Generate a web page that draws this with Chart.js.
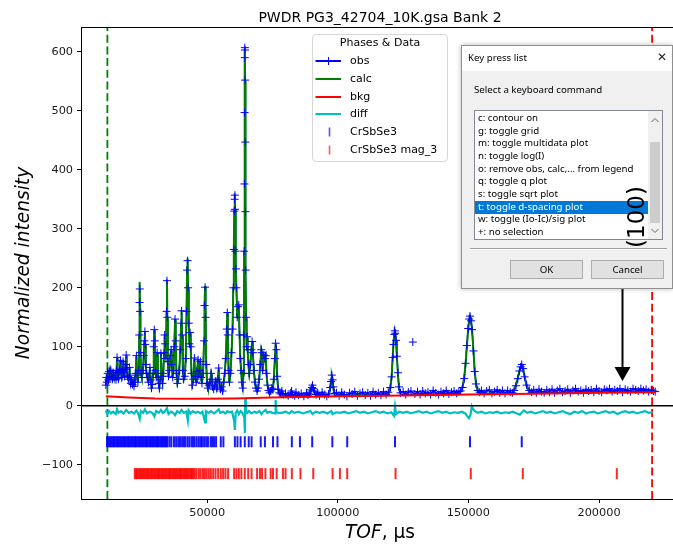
<!DOCTYPE html>
<html>
<head>
<meta charset="utf-8">
<title>PWDR PG3_42704_10K.gsa Bank 2</title>
<script src="https://cdn.jsdelivr.net/npm/chart.js@4.4.1/dist/chart.umd.min.js"></script>
<style>
  html, body { margin: 0; padding: 0; background: #fff; overflow: hidden; }
  #wrap { position: relative; width: 673px; height: 544px; overflow: hidden; }
  #plot { position: absolute; left: 0; top: 0; }

  #legend { position: absolute; left: 312px; top: 34px; width: 134px; height: 126px;
            border: 1px solid #d6d6d6; border-radius: 4px; background: rgba(255,255,255,0.85);
            font: 11px "DejaVu Sans", sans-serif; color: #000; }
  #legend .ttl { position: absolute; left: 0; width: 100%; top: 1px; text-align: center; line-height: 14px; }
  #legend .row { position: absolute; left: 0; width: 100%; height: 14px; }
  #legend svg { position: absolute; left: 0; top: 0; }
  #legend .lab { position: absolute; left: 37px; top: 0; line-height: 14px; white-space: nowrap; }

  #dlg { position: absolute; left: 461px; top: 45px; width: 210px; height: 242px;
         border: 1px solid #8f8f8f; background: #f0f0f0; box-shadow: 0 0 5px rgba(0,0,0,0.28);
         font: 9.7px "Noto Sans", sans-serif; color: #000; }
  #dlg .bar { position: absolute; left: 0; top: 0; right: 0; height: 25px; background: #fff; }
  #dlg .bar .t { position: absolute; left: 6px; top: 5px; line-height: 14px; }
  #dlg .bar .x { position: absolute; left: 195px; top: 4px; font: 12px "DejaVu Sans", sans-serif; color: #222; }
  #dlg .prompt { position: absolute; left: 12px; top: 37px; line-height: 14px; }
  #dlg .list { position: absolute; left: 12px; top: 64px; width: 187px; height: 128px;
               border: 1px solid #828790; background: #fff; overflow: hidden; }
  #dlg .item { position: absolute; left: 0; width: 170px; padding-left: 3px; height: 12.65px;
               line-height: 12.65px; white-space: nowrap; }
  #dlg .item.sel { background: #0078d7; color: #fff; height: 13.3px; }
  #dlg .sb { position: absolute; right: 0; top: 0; width: 14px; height: 100%; background: #f0f0f0; }
  #dlg .thumb { position: absolute; left: 2px; width: 10px; top: 31px; height: 81px; background: #cdcdcd; }
  #dlg .sb svg { position: absolute; left: 3px; }
  #dlg .sep { position: absolute; left: 8px; top: 202px; width: 197px; height: 0;
              border-top: 1px solid #a0a0a0; border-bottom: 1px solid #fff; }
  #dlg .btn { position: absolute; top: 214px; height: 17px; border: 1px solid #adadad; background: #e1e1e1;
              text-align: center; line-height: 17px; }

  #ann { position: absolute; left: 635.5px; top: 216.5px; transform: translate(-50%, -50%) rotate(-90deg);
         font: 23px "DejaVu Sans", sans-serif; color: #000; white-space: nowrap; line-height: 23px; }
</style>
</head>
<body>
<div id="wrap">
  <canvas id="plot" width="690" height="544"></canvas>
  <div id="legend"></div>
  <div id="dlg">
    <div class="bar"><span class="t">Key press list</span><span class="x">✕</span></div>
    <div class="prompt">Select a keyboard command</div>
    <div class="list" id="keylist">
      <div class="sb">
        <svg width="8" height="6" style="top:6px"><polyline points="0.5,5 4,1.5 7.5,5" fill="none" stroke="#606060" stroke-width="1"/></svg>
        <div class="thumb"></div>
        <svg width="8" height="6" style="top:117px"><polyline points="0.5,1 4,4.5 7.5,1" fill="none" stroke="#606060" stroke-width="1"/></svg>
      </div>
    </div>
    <div class="sep"></div>
    <div class="btn" style="left:48px;width:71px">OK</div>
    <div class="btn" style="left:129px;width:71px">Cancel</div>
  </div>
  <div id="ann">(100)</div>
</div>
<script>
// --- chart text and axes ---
const chartTitle = 'PWDR PG3_42704_10K.gsa Bank 2';
const yTitle = 'Normalized intensity';
const xTitleItalic = 'TOF';
const xTitleRest = ', µs';
const xTicks = [50000, 100000, 150000, 200000];
const yTicks = [-100, 0, 100, 200, 300, 400, 500, 600];
const xRange = [1700, 230600];
const yRange = [-158, 642];

// excluded-region limits (green = lower, red = upper)
const limitTof = [11800, 220300];

// observed profile [TOF, intensity]
const obsPts = [
  [11200,35],[11400,48],[11600,40],[11900,55],[12200,44],[12500,58],[12800,47],[13100,60],[13400,50],[13700,45],
  [14000,56],[14300,48],[14700,52],[15100,44],[15300,60],[15500,82],[15700,55],[16000,46],[16300,58],[16600,62],
  [16800,77],[17000,57],[17300,48],[17600,60],[17800,75],[18000,56],[18300,50],[18600,62],[18850,70],[19000,86],
  [19200,64],[19500,50],[19800,45],[20100,52],[20300,65],[20500,48],[20800,38],[21100,44],[21400,36],[21700,40],
  [22000,33],[22300,44],[22600,55],[22900,85],[23150,52],[23500,40],[23800,60],[24000,120],[24100,175],[24200,198],
  [24300,160],[24450,90],[24700,55],[25000,48],[25400,60],[25700,85],[25950,110],[26150,126],[26300,104],[26500,70],
  [26800,55],[27100,48],[27500,40],[27800,55],[28100,65],[28400,44],[28700,30],[29000,36],[29300,55],[29550,100],
  [29750,129],[29950,110],[30200,60],[30500,48],[30850,90],[31100,55],[31400,38],[31700,30],[32000,45],[32300,89],
  [32600,50],[32900,38],[33200,55],[33500,90],[33700,120],[33900,105],[34200,80],[34450,160],[34600,212],[34750,150],
  [34950,75],[35200,50],[35500,60],[35900,85],[36200,95],[36450,70],[36800,48],[37100,60],[37400,100],[37700,147],
  [37950,110],[38250,55],[38600,38],[38900,45],[39300,60],[39700,95],[40000,140],[40200,161],[40400,120],[40700,60],
  [41000,45],[41400,50],[41800,80],[42100,160],[42300,230],[42500,246],[42700,200],[42950,140],[43200,105],[43450,124],
  [43700,100],[44000,55],[44300,35],[44700,45],[45100,81],[45400,50],[45800,40],[46100,58],[46500,78],[46800,50],
  [47100,60],[47400,75],[47700,48],[48000,38],[48400,55],[48800,110],[49000,170],[49200,201],[49400,150],[49650,70],
  [49950,38],[50300,30],[50700,35],[51100,40],[51500,55],[51800,45],[52100,32],[52500,28],[52900,35],[53300,42],
  [53700,30],[54100,45],[54400,64],[54700,40],[55100,28],[55500,32],[55900,25],[56300,40],[56700,55],[57100,80],
  [57500,130],[57700,158],[57900,120],[58200,60],[58500,40],[58900,55],[59300,90],[59700,130],[60000,200],[60200,265],
  [60350,330],[60500,350],[60600,357],[60700,333],[60850,262],[61000,232],[61200,200],[61500,150],[61800,168],[62100,171],
  [62400,120],[62700,80],[63000,60],[63300,40],[63600,30],[63900,55],[64050,120],[64150,262],[64250,376],[64320,497],
  [64380,590],[64420,607],[64460,603],[64520,552],[64580,447],[64650,329],[64750,230],[64900,150],[65100,100],[65300,117],
  [65500,95],[65800,70],[66100,55],[66500,70],[66900,95],[67200,109],[67500,90],[67900,60],[68300,40],[68700,30],
  [69100,25],[69500,30],[69900,45],[70300,70],[70700,95],[70900,90],[71200,60],[71700,86],[72100,80],[72400,85],
  [72700,55],[73100,35],[73500,26],[73900,22],[74300,25],[74700,30],[75100,28],[75500,45],[75900,80],[76200,106],
  [76500,95],[76800,50],[77200,28],[77600,22],[78100,20],[78600,25],[79100,19],
  [80000,21],[81000,17],[82000,22],[82300,25],[82700,19],[83500,17],[84000,23],[85000,18],[86000,21],[87000,16],
  [88000,22],[88600,18],[89100,20],[89700,27],[90100,31],[90300,35],[90600,29],[91100,25],[91700,19],
  [92300,22],[93000,17],[94000,23],[95000,19],[95800,16],
  [96500,20],[97100,31],[97400,41],[97700,52],[98000,44],[98300,32],[98800,21],
  [99500,22],[100500,17],[101500,23],[102500,19],[103500,16],[104500,22],[105500,20],[106500,24],[107500,17],[108500,21],
  [109500,23],[110500,18],[111500,22],[112500,17],[113500,24],[114500,19],[115500,22],[116500,18],[117500,24],[118500,19],
  [119300,23],[120100,31],[120600,49],[121000,82],[121300,104],[121600,121],[121800,127],[122000,123],[122300,111],[122600,84],
  [123000,56],[123400,32],[124000,22],
  [125000,24],[126000,19],[127000,23],[128000,25],[129500,20],[130500,24],[131500,19],[132500,25],[133500,21],
  [134500,23],[135500,19],[136500,26],[137500,22],[138500,19],[139500,24],[140500,21],[141500,26],[142500,20],[143500,23],
  [144500,25],[145500,21],[146300,24],
  [147000,25],[147800,31],[148400,46],[148900,72],[149400,102],[149900,131],[150300,147],[150600,152],[151000,144],[151400,129],
  [151900,93],[152400,58],[152900,37],[153600,26],[154300,23],
  [155000,26],[156000,21],[157000,25],[158000,27],[159000,21],[160000,24],[161000,27],[162000,22],[163000,26],[164000,21],
  [165000,26],[166000,23],[166800,22],
  [167500,26],[168200,34],[168900,46],[169500,59],[170000,66],[170400,70],[170900,63],[171500,49],[172300,35],[173300,26],
  [174200,23],
  [175000,27],[176000,22],[177000,28],[178000,24],[179000,22],[180000,27],[181000,23],[182000,28],[183000,22],[184000,26],
  [185000,29],[186000,23],[187000,25],[188000,28],[189000,22],[190000,26],[191000,29],[192000,24],[193000,26],[194000,22],
  [195000,28],[196000,25],[197000,27],[198000,23],[199000,29],[200000,25],[201000,23],[202000,28],[203000,26],[204000,29],
  [205000,24],[206000,27],[207000,25],[208000,29],[209000,23],[210000,28],[211000,26],[212000,24],[213000,29],[214000,27],
  [215000,25],[216000,29],[217000,26],[218000,28],[219000,24],[220000,27],[220800,25],[221500,24]
];
// isolated observed point (spike), plotted as a marker only
const obsOutliers = [[128700,108]];

// calculated profile [TOF, intensity]
const calcPts = [
  [11200,38],[11400,45],[11600,42],[11900,52],[12200,46],[12500,55],[12800,48],[13100,57],[13400,50],[13700,47],
  [14000,54],[14300,49],[14700,51],[15100,46],[15300,58],[15500,80],[15700,54],[16000,48],[16300,56],[16600,60],
  [16800,76],[17000,56],[17300,50],[17600,58],[17800,73],[18000,55],[18300,51],[18600,60],[18850,68],[19000,84],
  [19200,62],[19500,51],[19800,46],[20100,51],[20300,63],[20500,47],[20800,40],[21100,43],[21400,38],[21700,40],
  [22000,35],[22300,43],[22600,53],[22900,83],[23150,50],[23500,41],[23800,58],[24000,118],[24100,180],[24200,210],
  [24300,165],[24450,88],[24700,54],[25000,48],[25400,58],[25700,83],[25950,108],[26150,124],[26300,102],[26500,68],
  [26800,54],[27100,47],[27500,41],[27800,53],[28100,63],[28400,43],[28700,32],[29000,37],[29300,54],[29550,98],
  [29750,127],[29950,108],[30200,58],[30500,47],[30850,88],[31100,53],[31400,39],[31700,32],[32000,44],[32300,87],
  [32600,49],[32900,39],[33200,54],[33500,88],[33700,118],[33900,103],[34200,79],[34450,158],[34600,214],[34750,148],
  [34950,73],[35200,49],[35500,58],[35900,83],[36200,93],[36450,68],[36800,47],[37100,58],[37400,98],[37700,145],
  [37950,108],[38250,54],[38600,39],[38900,44],[39300,58],[39700,93],[40000,138],[40200,162],[40400,118],[40700,58],
  [41000,44],[41400,49],[41800,78],[42100,158],[42300,235],[42500,250],[42700,198],[42950,138],[43200,103],[43450,122],
  [43700,98],[44000,53],[44300,36],[44700,44],[45100,79],[45400,49],[45800,40],[46100,56],[46500,76],[46800,49],
  [47100,58],[47400,73],[47700,47],[48000,38],[48400,53],[48800,108],[49000,172],[49200,203],[49400,148],[49650,68],
  [49950,38],[50300,31],[50700,34],[51100,39],[51500,53],[51800,44],[52100,32],[52500,29],[52900,34],[53300,41],
  [53700,31],[54100,44],[54400,62],[54700,39],[55100,29],[55500,31],[55900,26],[56300,39],[56700,53],[57100,78],
  [57500,128],[57700,156],[57900,118],[58200,58],[58500,39],[58900,53],[59300,88],[59700,128],[60000,198],[60200,262],
  [60350,328],[60500,352],[60600,360],[60700,330],[60850,260],[61000,230],[61200,198],[61500,148],[61800,166],[62100,169],
  [62400,118],[62700,78],[63000,58],[63300,39],[63600,31],[63900,53],[64050,118],[64150,260],[64250,374],[64320,495],
  [64380,588],[64420,605],[64460,600],[64520,550],[64580,445],[64650,327],[64750,228],[64900,148],[65100,98],[65300,115],
  [65500,93],[65800,68],[66100,54],[66500,68],[66900,93],[67200,107],[67500,88],[67900,58],[68300,39],[68700,30],
  [69100,25],[69500,29],[69900,44],[70300,68],[70700,93],[70900,88],[71200,58],[71700,84],[72100,78],[72400,83],
  [72700,54],[73100,34],[73500,26],[73900,22],[74300,24],[74700,29],[75100,27],[75500,44],[75900,78],[76200,104],
  [76500,93],[76800,49],[77200,27],[77600,21],[78100,18],[79500,15.5],[84000,15.8],
  [89100,16.2],[89700,24],[90100,31],[90300,34],[90600,29],[91100,22],[91700,16.5],
  [96500,17],[97100,29],[97400,42],[97700,51],[98000,45],[98300,30],[98800,17.3],[110000,17.7],
  [119300,18.3],[120100,29],[120600,50],[121000,80],[121300,105],[121600,120],[121800,126],[122000,124],[122300,110],[122600,85],
  [123000,55],[123400,31],[124000,18.7],[135000,19.1],
  [146500,19.8],[147500,28],[148300,45],[148900,70],[149400,100],[149900,130],[150300,146],[150600,151],[151000,146],[151400,128],
  [151900,95],[152400,60],[152900,37],[153600,24],[154500,20.3],[166000,20.9],
  [167000,23],[168000,32],[168800,45],[169500,58],[170000,66],[170400,69],[170900,64],[171500,50],[172300,33],[173300,24],
  [174500,21.5],[190000,22.4],[205000,23.2],[221500,24]
];

// background [TOF, intensity]
const bkgPts = [
  [11200,16],[20000,14],[30000,12.5],[45000,12],[60000,12.5],[75000,14],[100000,16],[125000,17.5],
  [150000,19],[175000,20.5],[200000,22],[221500,23]
];

// difference curve (offset) [TOF, value]
const diffPts = [
  [11200,-8],[11800,-14],[12500,-9],[13200,-13],[14000,-10],[15000,-14],[15500,-6],[16000,-12],[17000,-9],[18000,-13],
  [19000,-7],[20000,-12],[21000,-10],[22000,-13],[22900,-8],[23500,-12],[24200,-22],[24600,-9],[25500,-12],[26200,-6],
  [27000,-13],[28000,-10],[29000,-12],[29800,-18],[30500,-9],[31500,-12],[32300,-7],[33000,-12],[33700,-10],[34600,-4],
  [35200,-14],[36200,-10],[37000,-12],[37700,-16],[38500,-9],[39500,-12],[40200,-7],[41000,-12],[42000,-10],[42600,-25],
  [42900,-8],[43600,-13],[44500,-9],[45500,-12],[46500,-10],[47400,-13],[48200,-10],[49200,-28],[49500,-9],[50500,-12],
  [51500,-9],[52500,-13],[53500,-10],[54400,-6],[55000,-12],[56000,-10],[57000,-13],[57700,-9],[58500,-11],[59500,-10],
  [60300,-25],[60600,-41],[60900,-12],[61500,-8],[62100,-14],[62800,-9],[63500,-12],[64200,-20],[64450,-46],[64550,13],
  [64800,-8],[65300,-12],[66000,-9],[67000,-13],[68000,-10],[69000,-12],[70000,-9],[70800,-14],[71500,-10],[72400,-7],
  [73000,-12],[74000,-10],[75000,-12],[76000,-13],[76200,10],[76500,-11],[77500,-12],[78500,-12],[80000,-10],[81500,-13],
  [82300,-9],[83500,-12],[85000,-10],[86500,-13],[88000,-11],[89500,-9],[90300,-14],[91500,-10],[93000,-12],[94500,-10],
  [96000,-13],[97500,-9],[98000,-14],[99500,-11],[101000,-12],[102500,-10],[104000,-13],[105500,-11],[107000,-9],[108500,-12],
  [110000,-10],[111500,-13],[113000,-11],[114500,-9],[116000,-12],[117500,-10],[119000,-13],[120500,-11],[121500,-17],[121900,-1],
  [122300,-14],[123500,-10],[125000,-12],[126500,-10],[128000,-13],[129500,-11],[131000,-9],[132500,-12],[134000,-10],[135500,-13],
  [137000,-11],[138500,-9],[140000,-12],[141500,-10],[143000,-13],[144500,-11],[146000,-12],[147500,-10],[148800,-13],[149600,-18],
  [150200,-21],[150800,-15],[151300,-1],[151800,-6],[152500,-9],[153500,-12],[155000,-10],[156500,-13],[158000,-11],[159500,-12],
  [161000,-10],[162500,-13],[164000,-11],[165500,-12],[167000,-10],[168500,-13],[169700,-15],[170500,-11],[171200,-8],[172500,-12],
  [174000,-10],[175500,-13],[177000,-11],[178500,-9],[180000,-12],[181500,-10],[183000,-13],[184500,-11],[186000,-9],[187500,-12],
  [189000,-14],[190500,-10],[192000,-12],[193500,-9],[195000,-13],[196500,-11],[198000,-10],[199500,-13],[201000,-11],[202500,-9],
  [204000,-12],[205500,-10],[207000,-14],[208500,-11],[210000,-9],[211500,-12],[213000,-10],[214500,-13],[216000,-11],[217500,-9],
  [219000,-12],[220500,-11]
];

// reflection positions (TOF) for the two phases, and the offset of each tick row
const phaseNames = ['CrSbSe3', 'CrSbSe3 mag_3'];
const tickRowOffset = [-61, -115];
const nucRefl = [
  11650,12100,12600,13000,13500,14000,14400,14900,15400,15800,16300,16800,17200,17700,18200,18600,19100,19600,20000,20500,
  21000,21400,21900,22400,22800,23300,23800,24200,24700,25200,25600,26100,26600,27000,27500,28000,28400,28900,29400,29800,
  30300,30800,31200,31700,32200,32600,33100,33600,34000,34400,34800,35600,36300,37300,38100,38900,39600,40400,41100,41700,
  42500,43200,44000,44600,45200,46000,46800,47500,48000,48800,49600,50300,51300,51900,52600,53400,55200,56200,60600,61600,
  62800,64400,65900,67000,70500,72100,75200,76900,82400,85500,90200,97900,103600,121900,150600,170400
];
const magRefl = [
  22300,22800,23200,23700,24200,24600,25100,25600,26000,26500,27000,27400,27900,28400,28800,29300,29800,30200,30700,31200,
  31600,32100,32600,33000,33500,34000,34400,34900,35400,35800,36300,36800,37200,37700,38200,38600,39100,39600,40000,40500,
  41000,41400,41900,42400,42800,43300,43800,44200,44700,45200,45900,46800,47500,48400,49100,49800,50600,51400,52300,53200,
  54200,55200,56100,57000,58000,60300,61200,62100,63100,64400,65700,67000,69100,70200,71000,72300,74300,75200,76600,79000,
  80000,82400,85700,90600,98000,100800,103600,122100,150900,170800,206800
];

// (100) reflection marker: arrow from label down to the pattern
const arrowTof = [208850];
const arrowInt = [264, 42];

// dialog list
const keyCommands = [
  'c: contour on', 'g: toggle grid', 'm: toggle multidata plot', 'n: toggle log(I)',
  'o: remove obs, calc,... from legend', 'q: toggle q plot', 's: toggle sqrt plot',
  't: toggle d-spacing plot', 'w: toggle (Io-Ic)/sig plot', '+: no selection'
];
const selectedCommand = 7;

const FONT = '"DejaVu Sans", sans-serif';
const toXY = pts => pts.map(p => ({ x: p[0], y: p[1] }));

function vline(tof) {
  return [{ x: tof, y: yRange[0] }, { x: tof, y: yRange[1] }];
}

const decorations = {
  id: 'decorations',
  afterDraw(chart) {
    const { ctx, chartArea: a, scales: { x, y } } = chart;
    ctx.save();
    // top and right spines
    ctx.strokeStyle = '#000';
    ctx.lineWidth = 1;
    ctx.beginPath();
    ctx.moveTo(a.left, a.top + 0.5);
    ctx.lineTo(a.right - 0.5, a.top + 0.5);
    ctx.lineTo(a.right - 0.5, a.bottom);
    ctx.stroke();

    // arrow pointing to the (100) position
    const ax = Math.round(x.getPixelForValue(arrowTof[0])) + 0.5;
    const yStart = y.getPixelForValue(arrowInt[0]);
    const yTip = y.getPixelForValue(arrowInt[1]);
    ctx.fillStyle = '#000';
    ctx.lineWidth = 2;
    ctx.beginPath();
    ctx.moveTo(ax, yStart);
    ctx.lineTo(ax, yTip - 13);
    ctx.stroke();
    ctx.beginPath();
    ctx.moveTo(ax - 8, yTip - 14);
    ctx.lineTo(ax + 8, yTip - 14);
    ctx.lineTo(ax, yTip);
    ctx.closePath();
    ctx.fill();

    // plot title
    const cx = (a.left + a.right) / 2;
    ctx.font = '14px ' + FONT;
    ctx.textAlign = 'center';
    ctx.textBaseline = 'alphabetic';
    ctx.fillText(chartTitle, cx, 21.5);

    // x axis title: italic TOF, upright unit
    ctx.textAlign = 'left';
    ctx.font = 'italic 18.6px ' + FONT;
    const w1 = ctx.measureText(xTitleItalic).width;
    ctx.font = '18.6px ' + FONT;
    const w2 = ctx.measureText(xTitleRest).width;
    const sx = cx - (w1 + w2) / 2;
    ctx.font = 'italic 18.6px ' + FONT;
    ctx.fillText(xTitleItalic, sx, 537.5);
    ctx.font = '18.6px ' + FONT;
    ctx.fillText(xTitleRest, sx + w1, 537.5);
    ctx.restore();
  }
};

const chart = new Chart(document.getElementById('plot'), {
  type: 'scatter',
  data: {
    datasets: [
      { label: 'zero', data: [{ x: xRange[0], y: 0 }, { x: xRange[1], y: 0 }], showLine: true,
        borderColor: '#000', borderWidth: 1.6, pointRadius: 0, order: 0 },
      { label: 'bkg', data: toXY(bkgPts), showLine: true, borderColor: '#ff0000', borderWidth: 2,
        pointRadius: 0, order: 1 },
      { label: 'obs', data: toXY(obsPts.concat(obsOutliers)), showLine: false, pointStyle: 'cross', pointRadius: 4,
        pointBorderColor: '#0000ff', pointBorderWidth: 1, borderColor: '#0000ff', order: 2 },
      { label: 'calc', data: toXY(calcPts), showLine: true, borderColor: '#008000', borderWidth: 2,
        pointRadius: 0, order: 3 },
      { label: 'obs trace', data: toXY(obsPts), showLine: true, borderColor: '#0000ff', borderWidth: 1.5,
        pointRadius: 0, order: 3.5 },
      { label: 'diff', data: toXY(diffPts), showLine: true, borderColor: '#00bfbf', borderWidth: 2.2,
        pointRadius: 0, order: 4 },
      { label: phaseNames[0], data: nucRefl.map(t => ({ x: t, y: tickRowOffset[0] })), showLine: false,
        pointStyle: 'line', rotation: 90, pointRadius: 5.5, pointBorderWidth: 2,
        pointBorderColor: 'rgba(0,0,255,0.9)', borderColor: 'rgba(0,0,255,0.9)', order: 5 },
      { label: phaseNames[1], data: magRefl.map(t => ({ x: t, y: tickRowOffset[1] })), showLine: false,
        pointStyle: 'line', rotation: 90, pointRadius: 5.5, pointBorderWidth: 2,
        pointBorderColor: 'rgba(255,0,0,0.85)', borderColor: 'rgba(255,0,0,0.85)', order: 6 },
      { label: 'lower limit', data: vline(limitTof[0]), showLine: true, borderColor: '#008000',
        borderWidth: 1.8, borderDash: [8, 3.7], pointRadius: 0, order: 7 },
      { label: 'upper limit', data: vline(limitTof[1]), showLine: true, borderColor: '#ff0000',
        borderWidth: 1.8, borderDash: [8, 3.7], pointRadius: 0, order: 8 }
    ]
  },
  options: {
    responsive: false,
    animation: false,
    devicePixelRatio: 1,
    events: [],
    layout: { padding: { left: 0, top: 27, right: 11, bottom: 0 } },
    plugins: { legend: { display: false }, tooltip: { enabled: false }, title: { display: false } },
    scales: {
      x: {
        type: 'linear', min: xRange[0], max: xRange[1],
        afterBuildTicks: s => { s.ticks = xTicks.map(v => ({ value: v })); },
        afterFit: s => { s.height = 45; },
        grid: { display: true, drawOnChartArea: false, drawTicks: true, tickLength: 4, tickColor: '#000', tickWidth: 1 },
        border: { display: true, color: '#000', width: 1 },
        ticks: { color: '#1a1a1a', font: { family: FONT, size: 11.3 }, padding: 3, maxRotation: 0,
                 callback: v => String(v) }
      },
      y: {
        type: 'linear', min: yRange[0], max: yRange[1],
        afterBuildTicks: s => { s.ticks = yTicks.map(v => ({ value: v })); },
        afterFit: s => { s.width = 81; },
        grid: { display: true, drawOnChartArea: false, drawTicks: true, tickLength: 4, tickColor: '#000', tickWidth: 1 },
        border: { display: true, color: '#000', width: 1 },
        ticks: { color: '#1a1a1a', font: { family: FONT, size: 11.3 }, padding: 4,
                 callback: v => (v < 0 ? '\u2212' + Math.abs(v) : String(v)) },
        title: { display: true, text: yTitle, color: '#000',
                 font: { family: FONT, size: 18.6, style: 'italic' }, padding: { top: 13, bottom: 0 } }
      }
    }
  },
  plugins: [decorations]
});

// legend box (Phases & Data)
const legendEntries = [
  { name: 'obs', kind: 'obs', color: '#0000ff' },
  { name: 'calc', kind: 'line', color: '#008000' },
  { name: 'bkg', kind: 'line', color: '#ff0000' },
  { name: 'diff', kind: 'line', color: '#00bfbf' },
  { name: phaseNames[0], kind: 'tick', color: '#5050ff' },
  { name: phaseNames[1], kind: 'tick', color: '#ff5a5a' }
];
const legendRowTop = [19, 37, 54.7, 72, 90.3, 108];
const leg = document.getElementById('legend');
leg.innerHTML = '<div class="ttl">Phases &amp; Data</div>';
legendEntries.forEach((e, i) => {
  let sw = '';
  if (e.kind === 'tick') {
    sw = `<line x1="16.5" y1="2.5" x2="16.5" y2="11.5" stroke="${e.color}" stroke-width="1.6"/>`;
  } else {
    sw = `<line x1="2.5" y1="7" x2="28" y2="7" stroke="${e.color}" stroke-width="2"/>`;
    if (e.kind === 'obs') {
      sw += `<line x1="11.5" y1="7" x2="19.5" y2="7" stroke="${e.color}" stroke-width="1"/>` +
            `<line x1="15.5" y1="3" x2="15.5" y2="11" stroke="${e.color}" stroke-width="1"/>`;
    }
  }
  const row = document.createElement('div');
  row.className = 'row';
  row.style.top = legendRowTop[i] + 'px';
  row.innerHTML = `<svg width="30" height="14">${sw}</svg><span class="lab"></span>`;
  row.querySelector('.lab').textContent = e.name;
  leg.appendChild(row);
});

// dialog list items
const list = document.getElementById('keylist');
keyCommands.forEach((txt, i) => {
  const it = document.createElement('div');
  it.className = 'item' + (i === selectedCommand ? ' sel' : '');
  it.style.top = (1 + 12.65 * i) + 'px';
  it.textContent = txt;
  list.appendChild(it);
});
</script>
</body>
</html>
